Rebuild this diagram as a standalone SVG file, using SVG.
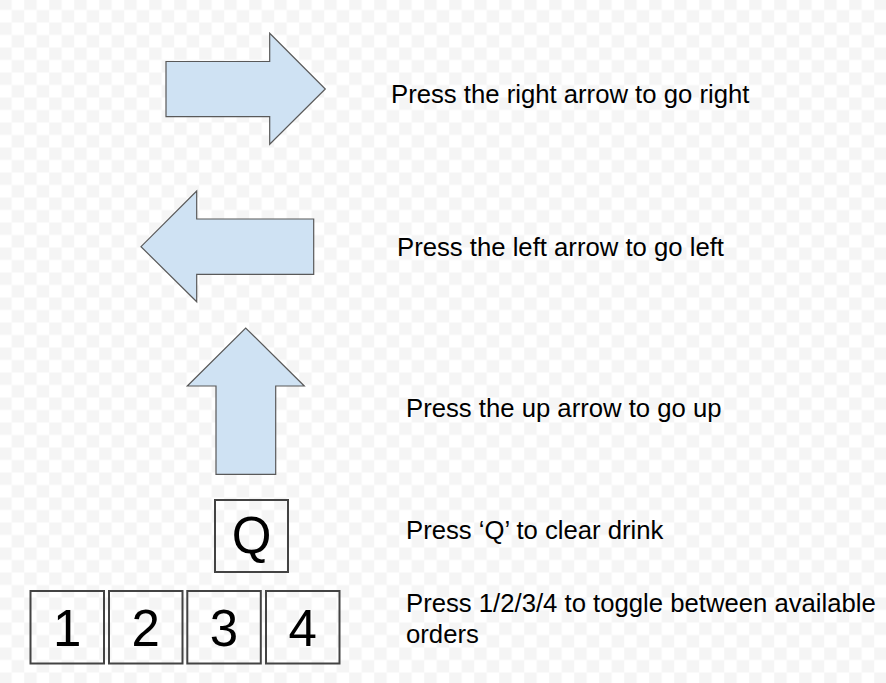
<svg xmlns="http://www.w3.org/2000/svg" width="886" height="683" viewBox="0 0 886 683">
<defs>
<pattern id="checker" patternUnits="userSpaceOnUse" x="-0.8" y="-2.5" width="25" height="25">
<rect width="25" height="25" fill="#ffffff"/>
<rect width="12.5" height="12.5" fill="#f5f5f5"/>
<rect x="12.5" y="12.5" width="12.5" height="12.5" fill="#f5f5f5"/>
</pattern>
<style>
.arrow{fill:#cfe2f3;stroke:#595959;stroke-width:1.2;stroke-linejoin:miter}
.key{fill:none;stroke:#434343;stroke-width:2}
.keytxt{font-family:"Liberation Sans",Arial,sans-serif;font-size:51px;fill:#000;text-anchor:middle}
.lbl{font-family:"Liberation Sans",Arial,sans-serif;font-size:25.7px;fill:#000}
</style>
</defs>
<rect width="886" height="683" fill="url(#checker)"/>
<g id="right-arrow"><polygon class="arrow" points="166,61.5 269.7,61.5 269.7,33.3 325.3,89 269.7,144.3 269.7,116.7 166,116.7"/></g>
<g id="left-arrow"><polygon class="arrow" points="313.7,219 196.7,219 196.7,191 141,246.7 196.7,301.7 196.7,274.3 313.7,274.3"/></g>
<g id="up-arrow"><polygon class="arrow" points="216,474.3 216,386 187.3,386 245.7,328 304.3,386 275.7,386 275.7,474.3"/></g>
<g id="key-q"><rect class="key" x="215" y="500" width="73" height="72"/><text class="keytxt" x="251.5" y="553">Q</text></g>
<g id="key-1"><rect class="key" x="30.5" y="591" width="73.5" height="72.5"/><text class="keytxt" x="67.3" y="646">1</text></g>
<g id="key-2"><rect class="key" x="109" y="591" width="73.5" height="72.5"/><text class="keytxt" x="145.8" y="646">2</text></g>
<g id="key-3"><rect class="key" x="187.3" y="591" width="73.5" height="72.5"/><text class="keytxt" x="224" y="646">3</text></g>
<g id="key-4"><rect class="key" x="266" y="591" width="73.5" height="72.5"/><text class="keytxt" x="302.8" y="646">4</text></g>
<g id="label-right"><text class="lbl" x="391" y="103">Press the right arrow to go right</text></g>
<g id="label-left"><text class="lbl" x="397" y="256">Press the left arrow to go left</text></g>
<g id="label-up"><text class="lbl" x="406" y="417">Press the up arrow to go up</text></g>
<g id="label-q"><text class="lbl" x="406" y="539">Press ‘Q’ to clear drink</text></g>
<g id="label-orders"><text class="lbl" x="406" y="611.5">Press 1/2/3/4 to toggle between available</text><text class="lbl" x="406" y="643">orders</text></g>
<g id="connectors"/>
</svg>
